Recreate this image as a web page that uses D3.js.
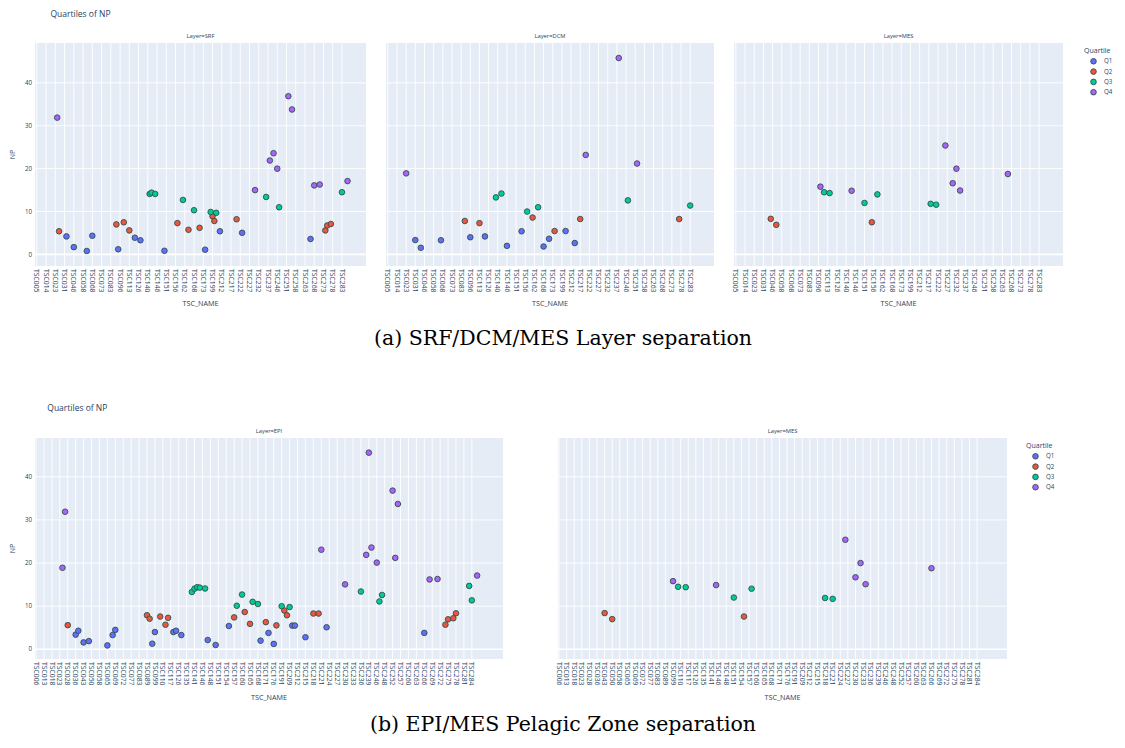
<!DOCTYPE html>
<html>
<head>
<meta charset="utf-8">
<script src="https://cdn.jsdelivr.net/npm/d3@7"></script>
<style>
  body { margin: 0; background: #fff; }
  svg { display: block; }
</style>
</head>
<body>
<script>
// Quartile legend and colours (plotly default palette)
const quartiles = ['Q1', 'Q2', 'Q3', 'Q4'];
const quartileColors = ['#636efa', '#ef553b', '#00cc96', '#ab63fa'];
const yTickValues = [0, 10, 20, 30, 40];

// Figure (a): visible category labels, one every 5 categories
const topTicks = ['TSC005', 'TSC014', 'TSC023', 'TSC031', 'TSC046', 'TSC058', 'TSC068', 'TSC073', 'TSC083',
  'TSC096', 'TSC113', 'TSC126', 'TSC140', 'TSC146', 'TSC151', 'TSC156', 'TSC162', 'TSC168', 'TSC173',
  'TSC199', 'TSC212', 'TSC217', 'TSC222', 'TSC227', 'TSC232', 'TSC237', 'TSC246', 'TSC251', 'TSC258',
  'TSC263', 'TSC268', 'TSC273', 'TSC278', 'TSC283'];
const topTickStep = 5;

// Layer=SRF : category position, NP, quartile
const srfPos = [11, 12, 16, 20, 27, 30, 43, 44, 47, 50, 53, 56, 61, 62, 64, 69, 76, 79, 82, 85, 88, 91, 94, 95,
  96, 97, 99, 108, 111, 118, 124, 126, 128, 130, 131, 136, 138, 148, 150, 153, 156, 157, 159, 165, 168];
const srfNP = [31.9, 5.4, 4.2, 1.7, 0.8, 4.35, 7.0, 1.2, 7.5, 5.6, 3.9, 3.3, 14.1, 14.4, 14.1, 0.85, 7.3, 12.7,
  5.75, 10.3, 6.2, 1.1, 9.9, 8.9, 7.8, 9.7, 5.4, 8.2, 5.05, 15.0, 13.4, 21.9, 23.6, 20.0, 11.0, 36.9, 33.8,
  3.6, 16.1, 16.3, 5.6, 6.75, 7.1, 14.5, 17.1];
const srfQ = ['Q4', 'Q2', 'Q1', 'Q1', 'Q1', 'Q1', 'Q2', 'Q1', 'Q2', 'Q2', 'Q1', 'Q1', 'Q3', 'Q3', 'Q3', 'Q1',
  'Q2', 'Q3', 'Q2', 'Q3', 'Q2', 'Q1', 'Q3', 'Q2', 'Q2', 'Q3', 'Q1', 'Q2', 'Q1', 'Q4', 'Q3', 'Q4', 'Q4', 'Q4',
  'Q3', 'Q4', 'Q4', 'Q1', 'Q4', 'Q4', 'Q2', 'Q2', 'Q2', 'Q3', 'Q4'];

// Layer=DCM
const dcmPos = [10, 15, 18, 29, 42, 45, 50, 53, 59, 62, 65, 73, 76, 79, 82, 85, 88, 91, 97, 102, 105, 108, 126,
  131, 136, 159, 165];
const dcmNP = [18.9, 3.35, 1.55, 3.3, 7.8, 4.0, 7.3, 4.2, 13.3, 14.2, 2.0, 5.4, 10.0, 8.6, 11.0, 1.85, 3.65,
  5.45, 5.45, 2.65, 8.25, 23.2, 45.8, 12.6, 21.2, 8.25, 11.4];
const dcmQ = ['Q4', 'Q1', 'Q1', 'Q1', 'Q2', 'Q1', 'Q2', 'Q1', 'Q3', 'Q3', 'Q1', 'Q1', 'Q3', 'Q2', 'Q3', 'Q1',
  'Q1', 'Q2', 'Q1', 'Q1', 'Q2', 'Q4', 'Q4', 'Q3', 'Q4', 'Q2', 'Q3'];

// Layer=MES (figure a)
const mesAPos = [19, 22, 46, 48, 51, 63, 70, 74, 77, 106, 109, 114, 118, 120, 122, 148];
const mesANP = [8.3, 6.9, 15.8, 14.5, 14.3, 14.85, 12.0, 7.5, 14.0, 11.8, 11.6, 25.4, 16.6, 20.0, 14.9, 18.75];
const mesAQ = ['Q2', 'Q2', 'Q4', 'Q3', 'Q3', 'Q4', 'Q3', 'Q2', 'Q3', 'Q3', 'Q3', 'Q4', 'Q4', 'Q4', 'Q4', 'Q4'];

// Figure (b): visible category labels, one every 3 categories
const bottomTicks = ['TSC006', 'TSC013', 'TSC018', 'TSC023', 'TSC028', 'TSC036', 'TSC043', 'TSC050', 'TSC058',
  'TSC065', 'TSC069', 'TSC072', 'TSC077', 'TSC083', 'TSC089', 'TSC099', 'TSC110', 'TSC117', 'TSC126',
  'TSC135', 'TSC141', 'TSC146', 'TSC148', 'TSC151', 'TSC154', 'TSC157', 'TSC160', 'TSC165', 'TSC168',
  'TSC171', 'TSC176', 'TSC191', 'TSC209', 'TSC212', 'TSC215', 'TSC218', 'TSC221', 'TSC224', 'TSC227',
  'TSC230', 'TSC233', 'TSC236', 'TSC239', 'TSC246', 'TSC248', 'TSC252', 'TSC257', 'TSC260', 'TSC263',
  'TSC266', 'TSC269', 'TSC272', 'TSC275', 'TSC278', 'TSC281', 'TSC284'];
const bottomTickStep = 3;

// Layer=EPI
const epiPos = [10, 11, 12, 15, 16, 18, 20, 27, 29, 30, 42, 43, 44, 45, 47, 49, 50, 52, 53, 55, 59, 60, 61, 62,
  64, 65, 68, 73, 75, 76, 78, 79, 81, 82, 84, 85, 87, 88, 90, 91, 93, 94, 95, 96, 97, 98, 102, 105, 107, 108,
  110, 117, 123, 125, 126, 127, 129, 130, 131, 135, 136, 137, 147, 149, 152, 155, 156, 158, 159, 164, 165, 167];
const epiNP = [18.9, 31.9, 5.6, 3.4, 4.3, 1.6, 1.9, 0.9, 3.3, 4.5, 7.9, 7.1, 1.3, 4.0, 7.6, 5.7, 7.3, 4.0, 4.3,
  3.3, 13.3, 14.05, 14.4, 14.3, 14.1, 2.15, 1.0, 5.4, 7.4, 10.1, 12.7, 8.65, 5.9, 11.0, 10.5, 2.0, 6.3, 3.8,
  1.25, 5.55, 10.0, 9.0, 7.9, 9.8, 5.5, 5.5, 2.8, 8.3, 8.3, 23.1, 5.1, 15.05, 13.4, 21.9, 45.6, 23.6, 20.1,
  11.1, 12.6, 36.8, 21.2, 33.7, 3.8, 16.2, 16.3, 5.7, 6.95, 7.2, 8.35, 14.7, 11.35, 17.1];
const epiQ = ['Q4', 'Q4', 'Q2', 'Q1', 'Q1', 'Q1', 'Q1', 'Q1', 'Q1', 'Q1', 'Q2', 'Q2', 'Q1', 'Q1', 'Q2', 'Q2',
  'Q2', 'Q1', 'Q1', 'Q1', 'Q3', 'Q3', 'Q3', 'Q3', 'Q3', 'Q1', 'Q1', 'Q1', 'Q2', 'Q3', 'Q3', 'Q2', 'Q2', 'Q3',
  'Q3', 'Q1', 'Q2', 'Q1', 'Q1', 'Q2', 'Q3', 'Q2', 'Q2', 'Q3', 'Q1', 'Q1', 'Q1', 'Q2', 'Q2', 'Q4', 'Q1', 'Q4',
  'Q3', 'Q4', 'Q4', 'Q4', 'Q4', 'Q3', 'Q3', 'Q4', 'Q4', 'Q4', 'Q1', 'Q4', 'Q4', 'Q2', 'Q2', 'Q2', 'Q2', 'Q3',
  'Q3', 'Q4'];

// Layer=MES (figure b)
const mesBPos = [18, 21, 45, 47, 50, 62, 69, 73, 76, 105, 108, 113, 117, 119, 121, 147];
const mesBNP = [8.4, 7.0, 15.8, 14.5, 14.4, 14.9, 12.0, 7.6, 14.05, 11.9, 11.7, 25.4, 16.7, 20.0, 15.1, 18.8];
const mesBQ = ['Q2', 'Q2', 'Q4', 'Q3', 'Q3', 'Q4', 'Q3', 'Q2', 'Q3', 'Q3', 'Q3', 'Q4', 'Q4', 'Q4', 'Q4', 'Q4'];

const W = 1125, H = 748;
const font = '"Open Sans", verdana, arial, sans-serif';
const ink = '#2a3f5f';
const color = d3.scaleOrdinal(quartiles, quartileColors);

const svg = d3.select('body').append('svg')
    .attr('width', W)
    .attr('height', H)
    .style('font-family', font);

function zip(pos, np, q) {
    return pos.map((p, i) => ({pos: p, np: np[i], q: q[i]}));
}

function panel(cfg) {
    const x = d3.scaleLinear().domain(cfg.xDomain).range([cfg.left, cfg.right]);
    const y = d3.scaleLinear().domain(cfg.yDomain).range([cfg.bottom, cfg.top]);
    const g = svg.append('g');

    g.append('rect')
        .attr('x', cfg.left).attr('y', cfg.top)
        .attr('width', cfg.right - cfg.left).attr('height', cfg.bottom - cfg.top)
        .attr('fill', '#e5ecf6');

    const ticks = cfg.ticks.map((t, i) => ({label: t, pos: i * cfg.step}));

    // vertical grid at labelled categories
    g.selectAll('line.xgrid').data(ticks).join('line')
        .attr('class', 'xgrid')
        .attr('x1', d => x(d.pos)).attr('x2', d => x(d.pos))
        .attr('y1', cfg.top).attr('y2', cfg.bottom)
        .attr('stroke', '#fff').attr('stroke-width', 0.9);

    g.selectAll('line.ygrid').data(yTickValues).join('line')
        .attr('class', 'ygrid')
        .attr('x1', cfg.left).attr('x2', cfg.right)
        .attr('y1', d => y(d)).attr('y2', d => y(d))
        .attr('stroke', '#fff').attr('stroke-width', d => d === 0 ? 1.6 : 0.9);

    // x tick labels, rotated 90deg
    g.selectAll('text.xtick').data(ticks).join('text')
        .attr('class', 'xtick')
        .attr('transform', d => `translate(${x(d.pos)},${cfg.bottom + 3}) rotate(90)`)
        .attr('dy', '0.35em')
        .attr('font-size', 6.8)
        .attr('fill', ink)
        .text(d => d.label);

    if (cfg.showY) {
        g.selectAll('text.ytick').data(yTickValues).join('text')
            .attr('class', 'ytick')
            .attr('x', cfg.left - 3).attr('y', d => y(d))
            .attr('dy', '0.35em')
            .attr('text-anchor', 'end')
            .attr('font-size', 6.2)
            .attr('fill', ink)
            .text(d => d);
        g.append('text')
            .attr('transform', `translate(${cfg.left - 22},${(cfg.top + cfg.bottom) / 2}) rotate(-90)`)
            .attr('text-anchor', 'middle')
            .attr('dy', '0.35em')
            .attr('font-size', 7)
            .attr('fill', ink)
            .text('NP');
    }

    g.append('text')
        .attr('x', (cfg.left + cfg.right) / 2).attr('y', cfg.top - 5)
        .attr('text-anchor', 'middle')
        .attr('font-size', 5.8)
        .attr('fill', ink)
        .text(cfg.title);

    g.append('text')
        .attr('x', (cfg.left + cfg.right) / 2).attr('y', cfg.xTitleY)
        .attr('text-anchor', 'middle')
        .attr('dy', '0.35em')
        .attr('font-size', 7.2)
        .attr('fill', ink)
        .text('TSC_NAME');

    // draw traces in legend order, like plotly
    const pts = cfg.data.slice().sort((a, b) => quartiles.indexOf(a.q) - quartiles.indexOf(b.q));
    g.selectAll('circle').data(pts).join('circle')
        .attr('cx', d => x(d.pos))
        .attr('cy', d => y(d.np))
        .attr('r', 2.8)
        .attr('fill', d => color(d.q))
        .attr('stroke', '#2f4f4f')
        .attr('stroke-width', 0.9);
}

function legend(lx, ly) {
    const g = svg.append('g').attr('transform', `translate(${lx},${ly})`);
    g.append('text').attr('x', 0).attr('y', 0).attr('dy', '0.35em')
        .attr('font-size', 7).attr('fill', ink).text('Quartile');
    const items = g.selectAll('g.item').data(quartiles).join('g')
        .attr('class', 'item')
        .attr('transform', (d, i) => `translate(0,${10.3 + i * 10.3})`);
    items.append('circle').attr('cx', 9.5).attr('cy', 0).attr('r', 2.8)
        .attr('fill', d => color(d)).attr('stroke', '#2f4f4f').attr('stroke-width', 0.9);
    items.append('text').attr('x', 20).attr('y', 0).attr('dy', '0.35em')
        .attr('font-size', 6.2).attr('fill', ink).text(d => d);
}

function caption(text, cx, cy) {
    svg.append('text')
        .attr('x', cx).attr('y', cy)
        .attr('dy', '0.35em')
        .attr('text-anchor', 'middle')
        .attr('font-family', '"DejaVu Serif", serif')
        .attr('font-size', 20.5)
        .attr('fill', '#000')
        .text(text);
}

// ---- figure (a)
svg.append('text').attr('x', 50.5).attr('y', 14).attr('dy', '0.35em')
    .attr('font-size', 8.5).attr('fill', ink).text('Quartiles of NP');

const topX = [-1, 178], topY = [-2.7, 49.3];
const topBox = {top: 43, bottom: 266, xTitleY: 303, xDomain: topX, yDomain: topY, ticks: topTicks, step: topTickStep};
panel(Object.assign({}, topBox, {left: 35, right: 366, title: 'Layer=SRF', showY: true, data: zip(srfPos, srfNP, srfQ)}));
panel(Object.assign({}, topBox, {left: 386, right: 714, title: 'Layer=DCM', data: zip(dcmPos, dcmNP, dcmQ)}));
panel(Object.assign({}, topBox, {left: 734, right: 1063, title: 'Layer=MES', data: zip(mesAPos, mesANP, mesAQ)}));
legend(1084, 51);
caption('(a) SRF/DCM/MES Layer separation', 563, 338);

// ---- figure (b)
svg.append('text').attr('x', 47.3).attr('y', 408).attr('dy', '0.35em')
    .attr('font-size', 8.5).attr('fill', ink).text('Quartiles of NP');

const botX = [-0.4, 176.8], botY = [-2.25, 49.0];
const botBox = {top: 438, bottom: 659, xTitleY: 697, xDomain: botX, yDomain: botY, ticks: bottomTicks, step: bottomTickStep};
panel(Object.assign({}, botBox, {left: 35, right: 503, title: 'Layer=EPI', showY: true, data: zip(epiPos, epiNP, epiQ)}));
panel(Object.assign({}, botBox, {left: 558, right: 1007, title: 'Layer=MES', data: zip(mesBPos, mesBNP, mesBQ)}));
legend(1026, 446);
caption('(b) EPI/MES Pelagic Zone separation', 563, 724);
</script>
</body>
</html>
